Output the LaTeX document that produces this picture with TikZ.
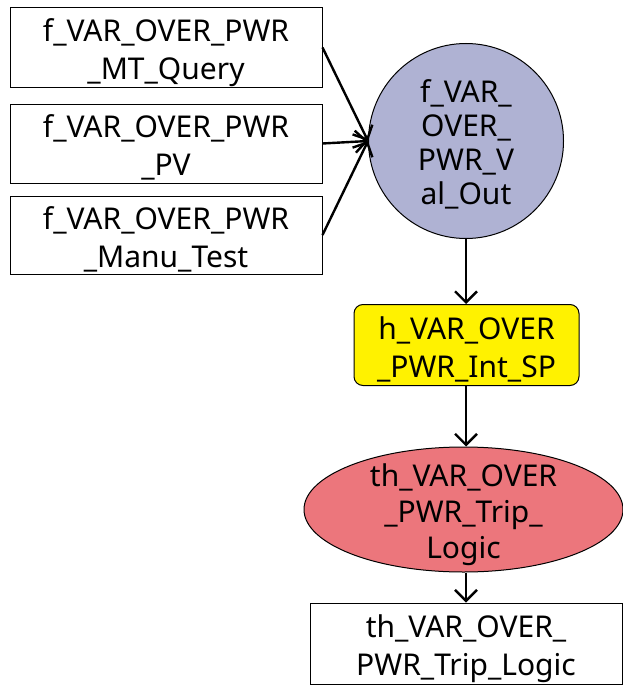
\documentclass[tikz,border=0pt]{standalone}
\usepackage{fontspec}
\setmainfont{Noto Sans}
\usetikzlibrary{arrows.meta,shapes.geometric}
\definecolor{lav}{HTML}{AFB2D3}
\definecolor{rosered}{HTML}{EC767C}
% centred lines, set a little low in their shape
\newcommand\stacked[1]{\raisebox{-12pt}[0pt][0pt]{\begin{tabular}{@{}c@{}}#1\end{tabular}}}
\tikzset{
  lbl/.style={font=\fontsize{30}{38}\selectfont, inner sep=0pt, line width=1pt, draw=black},
  plainbox/.style={lbl, rectangle, minimum width=312pt, minimum height=79pt},
  valcircle/.style={lbl, circle, fill=lav, minimum size=195pt},
  spbox/.style={lbl, rectangle, rounded corners=9pt, fill=yellow, minimum width=225pt, minimum height=81pt},
  tripell/.style={lbl, ellipse, fill=rosered, minimum width=319pt, minimum height=125pt},
  arr/.style={-{Straight Barb[length=11pt,width=22pt,line width=2.4pt]}, line width=2.4pt}
}
\begin{document}
\begin{tikzpicture}[x=1pt,y=-1pt]
\useasboundingbox (0,0) rectangle (623,685);
\node[plainbox] (q) at (166,47.5) {\stacked{f\_VAR\_OVER\_PWR\\\_MT\_Query}};
\node[plainbox] (pv) at (166,143.5) {\stacked{f\_VAR\_OVER\_PWR\\\_PV}};
\node[plainbox, minimum height=78pt] (mt) at (166,235) {\stacked{f\_VAR\_OVER\_PWR\\\_Manu\_Test}};
\node[valcircle, font=\fontsize{30}{34}\selectfont] (val) at (466,141) {\stacked{f\_VAR\_\\OVER\_\\PWR\_V\\al\_Out}};
\node[spbox] (sp) at (466.5,345) {\stacked{h\_VAR\_OVER\\\_PWR\_Int\_SP}};
\node[tripell, font=\fontsize{30}{36}\selectfont] (trip) at (463.5,509.5) {\stacked{th\_VAR\_OVER\\\_PWR\_Trip\_\\Logic}};
\node[plainbox, minimum height=81pt] (out) at (466,643.5) {\stacked{th\_VAR\_OVER\_\\PWR\_Trip\_Logic}};
\draw[arr] (q.east) -- (val.west);
\draw[arr] (pv.east) -- (val.west);
\draw[arr] (mt.east) -- (val.west);
\draw[arr] (val.south) -- (val.south |- sp.north);
\draw[arr] (val.south |- sp.south) -- (val.south |- trip.north);
\draw[arr] (val.south |- trip.south) -- (out.north);
\end{tikzpicture}
\end{document}
